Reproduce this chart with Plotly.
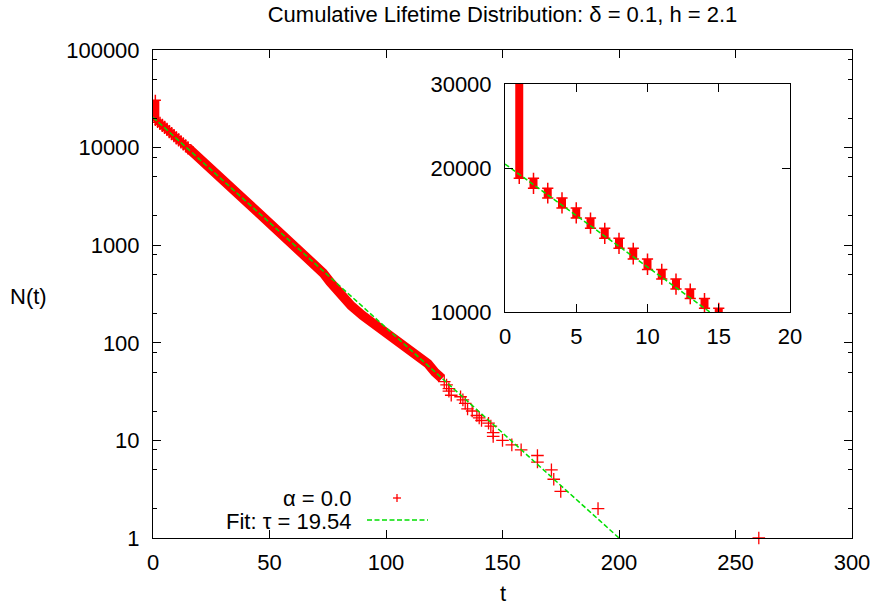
import plotly.graph_objects as go

# ---------------- data ----------------
# cumulative count N(t) at integer t: each t spans from N[t+1] up to N[t]
step_t = [1, 2, 3, 4, 5, 6, 7, 8, 9, 10, 11, 12, 13, 14, 15]
step_hi = [30500, 19040, 18150, 17330, 16510, 15730, 14970, 14260, 13590,
           12910, 12280, 11720, 11170, 10670, 10180]
step_lo = [19040, 18150, 17330, 16510, 15730, 14970, 14260, 13590, 12910,
           12280, 11720, 11170, 10670, 10180, 9700]

# dense band (centre of the thick cloud of points)
band_t = [15, 20, 25, 30, 35, 40, 45, 50, 55, 60, 65, 70, 73, 76, 80, 85, 90,
          95, 100, 105, 110, 115, 118, 121, 124]
band_n = [9940, 7600, 5900, 4600, 3580, 2800, 2180, 1700, 1320, 1030, 800,
          620, 520, 420, 320, 240, 190, 155, 126, 104, 88, 73, 61, 50, 43]

# sparse tail points
tail_t = [125, 126, 127, 127, 128, 132, 133, 134, 135, 137, 139, 140, 141,
          144, 145, 146, 146, 150, 154, 158, 165, 165, 171, 172, 175, 191, 260]
tail_n = [40, 37, 34, 32, 29, 28, 26, 24, 21, 20, 18, 17, 16, 15, 14, 12, 11,
          10, 9, 8, 7, 6, 5, 4, 3, 2, 1]

# exponential fit line, end points as read
fit_t = [0, 200]
fit_n = [20400, 1.0]

x_ticks = [0, 50, 100, 150, 200, 250, 300]
y_ticks = [1, 10, 100, 1000, 10000, 100000]
y_minor = [v * m for v in [1, 10, 100, 1000, 10000] for m in (2, 5, 8)]
inset_x_ticks = [0, 5, 10, 15, 20]
inset_y_ticks = [10000, 20000, 30000]

RED = "#ff0000"
GREEN = "#00e000"
FONT = "Liberation Sans, Arial, sans-serif"
FS = 22

fig = go.Figure()


def add_steps(xa, ya):
    fig.add_trace(go.Scatter(
        x=step_t, y=step_hi, mode="markers", xaxis=xa, yaxis=ya,
        marker=dict(symbol="cross-thin", size=8, line=dict(color=RED, width=1.5)),
        error_y=dict(type="data", symmetric=False,
                     array=[0] * len(step_t),
                     arrayminus=[h - l for h, l in zip(step_hi, step_lo)],
                     color=RED, thickness=8, width=0),
        showlegend=False, hoverinfo="skip"))
    fig.add_trace(go.Scatter(
        x=step_t, y=step_lo, mode="markers", xaxis=xa, yaxis=ya,
        marker=dict(symbol="cross-thin", size=8, line=dict(color=RED, width=1.5)),
        showlegend=False, hoverinfo="skip"))


# main plot
add_steps("x", "y")
fig.add_trace(go.Scatter(x=band_t, y=band_n, mode="lines",
                         line=dict(color=RED, width=9.5),
                         showlegend=False, hoverinfo="skip"))
fig.add_trace(go.Scatter(x=tail_t, y=tail_n, mode="markers", cliponaxis=False,
                         marker=dict(symbol="cross-thin", size=9,
                                     line=dict(color=RED, width=1.3)),
                         showlegend=False, hoverinfo="skip"))
fig.add_trace(go.Scatter(x=fit_t, y=fit_n, mode="lines",
                         line=dict(color=GREEN, width=1.5, dash="5px,2.5px"),
                         showlegend=False, hoverinfo="skip"))

# inset
add_steps("x2", "y2")
fig.add_trace(go.Scatter(x=fit_t, y=fit_n, mode="lines", xaxis="x2", yaxis="y2",
                         line=dict(color=GREEN, width=1.5, dash="5px,2.5px"),
                         showlegend=False, hoverinfo="skip"))

axis_common = dict(showline=True, linecolor="black", linewidth=1, mirror="ticks",
                   ticks="inside", ticklen=8, tickcolor="black", tickwidth=1,
                   showgrid=False, zeroline=False,
                   tickfont=dict(family=FONT, size=FS, color="black"))

L, R, T, B = 153, 26, 50, 70
W, H = 878, 608
pw, ph = W - L - R, H - T - B


def px(xp):
    return (xp - L) / pw


def py(yp):
    return (H - B - yp) / ph


fig.update_layout(
    width=W, height=H,
    margin=dict(l=L, r=R, t=T, b=B, autoexpand=False),
    paper_bgcolor="white", plot_bgcolor="white",
    font=dict(family=FONT, size=FS, color="black"),
    title=dict(text="Cumulative Lifetime Distribution: δ = 0.1, h = 2.1",
               x=0.5, xref="paper", xanchor="center",
               y=1 - 14 / H, yref="container", yanchor="middle",
               font=dict(family=FONT, size=FS, color="black")),
    xaxis=dict(range=[0, 300], tickvals=x_ticks, ticktext=[str(v) for v in x_ticks],
               ticklabelstandoff=5, **axis_common),
    yaxis=dict(type="log", range=[0, 5], tickvals=y_ticks,
               ticktext=[str(v) for v in y_ticks], ticklabelstandoff=8,
               minor=dict(tickvals=y_minor, ticks="inside", ticklen=4,
                          tickcolor="black"),
               **axis_common),
    xaxis2=dict(domain=[px(505), px(790)], anchor="y2", range=[0, 20],
                tickvals=inset_x_ticks, ticktext=[str(v) for v in inset_x_ticks],
                ticklabelstandoff=5, **axis_common),
    yaxis2=dict(domain=[py(312), py(84)], anchor="x2", type="log",
                range=[4, 4.47712125472], tickvals=inset_y_ticks,
                ticktext=[str(v) for v in inset_y_ticks], ticklabelstandoff=8,
                **axis_common),
)

# axis titles
fig.add_annotation(text="t", xref="paper", yref="paper", x=0.5, y=py(593),
                   xanchor="center", yanchor="middle", showarrow=False,
                   font=dict(family=FONT, size=FS, color="black"))
fig.add_annotation(text="N(t)", xref="paper", yref="paper", x=px(29), y=py(296),
                   xanchor="center", yanchor="middle", showarrow=False,
                   font=dict(family=FONT, size=FS, color="black"))

# key (text on the left, sample on the right, as in the original)
fig.add_annotation(text="α = 0.0", xref="paper", yref="paper", x=px(353), y=py(498),
                   xanchor="right", yanchor="middle", showarrow=False,
                   font=dict(family=FONT, size=FS, color="black"))
fig.add_annotation(text="Fit: τ = 19.54", xref="paper", yref="paper", x=px(353),
                   y=py(521), xanchor="right", yanchor="middle", showarrow=False,
                   font=dict(family=FONT, size=FS, color="black"))
fig.add_shape(type="line", xref="paper", yref="paper", x0=px(367), x1=px(428),
              y0=py(520), y1=py(520), line=dict(color=GREEN, width=1.5, dash="5px,2.5px"))
fig.add_shape(type="line", xref="paper", yref="paper", xsizemode="pixel",
              xanchor=px(397), x0=-4, x1=4, y0=py(498), y1=py(498),
              line=dict(color=RED, width=1.3))
fig.add_shape(type="line", xref="paper", yref="paper", ysizemode="pixel",
              yanchor=py(498), y0=-4, y1=4, x0=px(397), x1=px(397),
              line=dict(color=RED, width=1.3))

fig.write_html("out.html")
